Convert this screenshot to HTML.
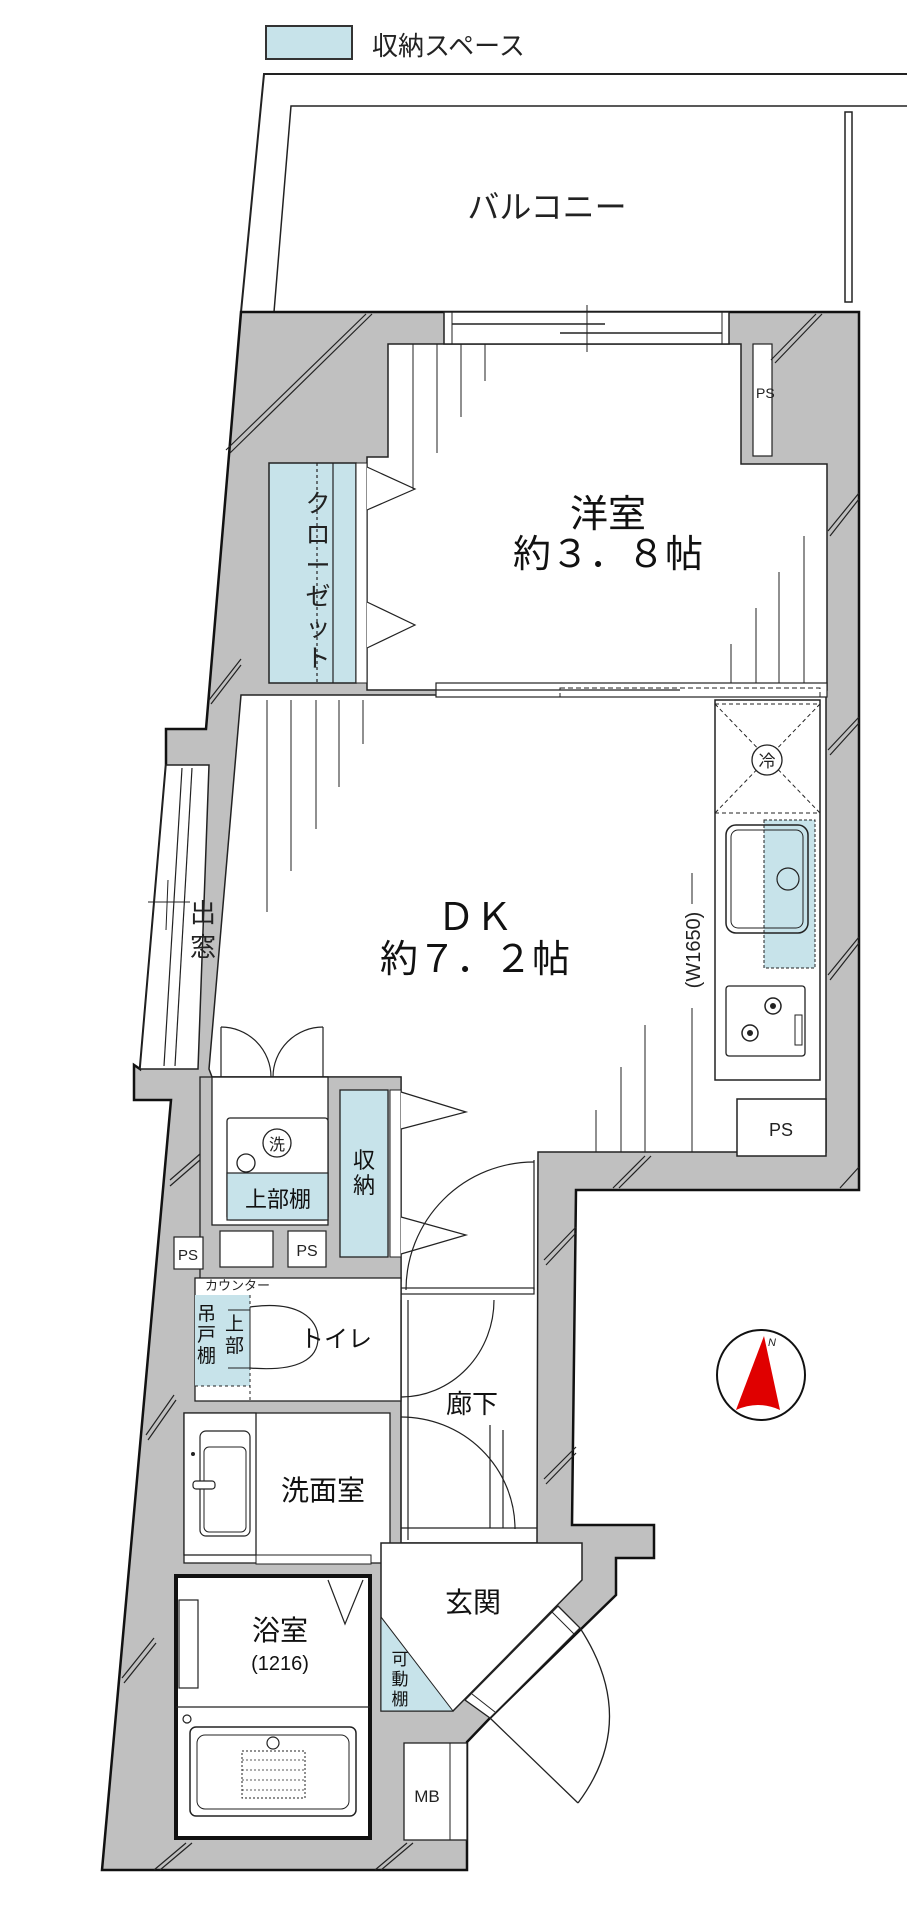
<!DOCTYPE html>
<html><head><meta charset="utf-8"><style>html,body{margin:0;padding:0;background:#fff}svg{display:block}</style></head>
<body>
<svg width="907" height="1920" viewBox="0 0 907 1920" xmlns="http://www.w3.org/2000/svg" font-family="'Liberation Sans','Noto Sans CJK JP',sans-serif" stroke-linejoin="miter">
<!-- legend -->
<rect x="266" y="26" width="86" height="33" fill="#c7e3ea" stroke="#333" stroke-width="2"/>
<text x="372" y="55" font-size="26" fill="#222">収納スペース</text>
<!-- balcony -->
<polyline points="241,312 264,74 907,74" fill="none" stroke="#222" stroke-width="2"/>
<polyline points="274,312 291,106 907,106" fill="none" stroke="#222" stroke-width="1.5"/>
<rect x="845" y="112" width="7" height="190" fill="#fff" stroke="#222" stroke-width="1.5"/>
<text x="547" y="218" font-size="32" text-anchor="middle" fill="#222">バルコニー</text>
<!-- outer gray building -->
<polygon points="241,312 859,312 859,1190 576,1190 572,1525 654,1525 654,1558 616,1558 616,1595 578,1632 490,1718 467,1742 467,1870 102,1870 171,1100 134,1100 134,1065 140,1069 166,765 166,729 206,729" fill="#c0c0c0" stroke="#111" stroke-width="2.5"/>
<!-- bay window -->
<polygon points="166,765 209,765 198,1069 140,1069" fill="#fff" stroke="#222" stroke-width="1.5"/>
<line x1="182" y1="768" x2="164" y2="1066" stroke="#222" stroke-width="1.2"/>
<line x1="192" y1="768" x2="175" y2="1066" stroke="#222" stroke-width="1.2"/>
<line x1="148" y1="902" x2="190" y2="902" stroke="#222" stroke-width="1"/>
<line x1="168" y1="880" x2="166" y2="930" stroke="#222" stroke-width="1"/>
<text font-size="26" fill="#222"><tspan x="190" y="922">出</tspan><tspan x="190" y="956">窓</tspan></text>
<!-- 洋室 -->
<polygon points="388,344 741,344 741,464 827,464 827,690 367,690 367,457 388,457" fill="#fff" stroke="#222" stroke-width="1.5"/>
<rect x="444" y="312" width="285" height="32" fill="#fff" stroke="#222" stroke-width="1.5"/>
<rect x="452" y="312" width="270" height="32" fill="none" stroke="#222" stroke-width="1"/>
<line x1="452" y1="324" x2="605" y2="324" stroke="#222" stroke-width="1.5"/>
<line x1="560" y1="333" x2="722" y2="333" stroke="#222" stroke-width="1.5"/>
<line x1="587" y1="305" x2="587" y2="352" stroke="#222" stroke-width="1"/>
<rect x="753" y="344" width="19" height="112" fill="#fff" stroke="#222" stroke-width="1.2"/>
<text x="756" y="398" font-size="14" fill="#222">PS</text>
<!-- closet -->
<rect x="269" y="463" width="87" height="220" fill="#c7e3ea" stroke="#222" stroke-width="1.5"/>
<line x1="317" y1="463" x2="317" y2="683" stroke="#222" stroke-width="1.2" stroke-dasharray="3,3"/>
<line x1="333" y1="463" x2="333" y2="683" stroke="#222" stroke-width="1.2"/>
<rect x="356" y="463" width="11" height="220" fill="#fff" stroke="#222" stroke-width="1"/>
<text font-size="25" fill="#222" text-anchor="middle"><tspan x="318" y="512">ク</tspan><tspan x="318" y="543">ロ</tspan><tspan x="318" y="574">ー</tspan><tspan x="318" y="605">ゼ</tspan><tspan x="318" y="636">ッ</tspan><tspan x="318" y="667">ト</tspan></text>
<polyline points="367,467 415,489 367,510" fill="#fff" stroke="#222" stroke-width="1.2"/>
<polyline points="367,602 415,625 367,648" fill="#fff" stroke="#222" stroke-width="1.2"/>
<g stroke="#222" stroke-width="1">
<line x1="413" y1="344" x2="413" y2="489"/><line x1="437" y1="344" x2="437" y2="453"/><line x1="461" y1="344" x2="461" y2="417"/><line x1="485" y1="344" x2="485" y2="381"/>
<line x1="731" y1="683" x2="731" y2="644"/><line x1="756" y1="683" x2="756" y2="608"/><line x1="779" y1="683" x2="779" y2="572"/><line x1="804" y1="683" x2="804" y2="536"/>
</g>
<text x="608" y="527" font-size="38" text-anchor="middle" fill="#111">洋室</text>
<text x="608" y="567" font-size="38" text-anchor="middle" fill="#111">約３．８帖</text>
<!-- DK + hall -->
<polygon points="241,695 826,695 826,1152 538,1152 537,1543 401,1543 401,1077 212,1077 209,1069" fill="#fff" stroke="#222" stroke-width="1.5"/>
<rect x="436" y="683" width="391" height="14" fill="#fff" stroke="#222" stroke-width="1.2"/>
<line x1="436" y1="690" x2="680" y2="690" stroke="#222" stroke-width="1.2"/>
<rect x="560" y="688" width="260" height="9" fill="none" stroke="#222" stroke-width="1" stroke-dasharray="5,3"/>
<g stroke="#222" stroke-width="1">
<line x1="267" y1="700" x2="267" y2="912"/><line x1="291" y1="700" x2="291" y2="871"/><line x1="316" y1="700" x2="316" y2="829"/><line x1="339" y1="700" x2="339" y2="787"/><line x1="363" y1="700" x2="363" y2="744"/>
<line x1="596" y1="1152" x2="596" y2="1110"/><line x1="621" y1="1152" x2="621" y2="1067"/><line x1="645" y1="1152" x2="645" y2="1025"/><line x1="692" y1="1152" x2="692" y2="1008"/>
<line x1="692" y1="873" x2="692" y2="904"/>
</g>
<text x="475" y="930" font-size="38" text-anchor="middle" fill="#111">ＤＫ</text>
<text x="475" y="972" font-size="38" text-anchor="middle" fill="#111">約７．２帖</text>
<text transform="translate(700,950) rotate(-90)" font-size="20" text-anchor="middle" fill="#222">(W1650)</text>
<!-- kitchen -->
<rect x="715" y="700" width="105" height="380" fill="#fff" stroke="#222" stroke-width="1.5"/>
<rect x="715" y="704" width="105" height="109" fill="none" stroke="#222" stroke-width="1" stroke-dasharray="4,3"/>
<line x1="715" y1="704" x2="820" y2="813" stroke="#222" stroke-width="1" stroke-dasharray="4,3"/>
<line x1="820" y1="704" x2="715" y2="813" stroke="#222" stroke-width="1" stroke-dasharray="4,3"/>
<circle cx="767" cy="760" r="15" fill="#fff" stroke="#222" stroke-width="1.3"/>
<text x="767" y="767" font-size="17" text-anchor="middle" fill="#222">冷</text>
<rect x="764" y="820" width="51" height="148" fill="#c7e3ea" stroke="#222" stroke-width="1" stroke-dasharray="3,2"/>
<rect x="726" y="825" width="82" height="108" rx="10" fill="none" stroke="#222" stroke-width="1.5"/>
<rect x="731" y="830" width="72" height="98" rx="7" fill="none" stroke="#222" stroke-width="1"/>
<circle cx="788" cy="879" r="11" fill="none" stroke="#222" stroke-width="1.2"/>
<rect x="726" y="986" width="79" height="70" rx="3" fill="#fff" stroke="#222" stroke-width="1.3"/>
<circle cx="773" cy="1006" r="8" fill="none" stroke="#222" stroke-width="1.5"/><circle cx="773" cy="1006" r="3" fill="#222"/>
<circle cx="750" cy="1033" r="8" fill="none" stroke="#222" stroke-width="1.5"/><circle cx="750" cy="1033" r="3" fill="#222"/>
<rect x="795" y="1015" width="7" height="30" fill="none" stroke="#222" stroke-width="1"/>
<rect x="737" y="1099" width="89" height="57" fill="#fff" stroke="#222" stroke-width="1.5"/>
<text x="781" y="1136" font-size="18" text-anchor="middle" fill="#222">PS</text>
<!-- laundry block -->
<rect x="200" y="1077" width="201" height="204" fill="#c0c0c0" stroke="#222" stroke-width="1.3"/>
<rect x="212" y="1077" width="116" height="148" fill="#fff" stroke="#222" stroke-width="1.3"/>
<rect x="227" y="1118" width="101" height="102" rx="3" fill="#fff" stroke="#222" stroke-width="1.3"/>
<rect x="227" y="1173" width="101" height="47" fill="#c7e3ea" stroke="#222" stroke-width="1.2"/>
<circle cx="277" cy="1143" r="14" fill="#fff" stroke="#222" stroke-width="1.3"/>
<text x="277" y="1150" font-size="16" text-anchor="middle" fill="#222">洗</text>
<circle cx="246" cy="1163" r="9" fill="none" stroke="#222" stroke-width="1.3"/>
<text x="278" y="1207" font-size="22" text-anchor="middle" fill="#111">上部棚</text>
<rect x="340" y="1090" width="48" height="167" fill="#c7e3ea" stroke="#222" stroke-width="1.3"/>
<text font-size="22" text-anchor="middle" fill="#111"><tspan x="364" y="1168">収</tspan><tspan x="364" y="1193">納</tspan></text>
<rect x="390" y="1090" width="11" height="167" fill="#fff" stroke="#222" stroke-width="1"/>
<polyline points="401,1092 466,1112 401,1129" fill="#fff" stroke="#222" stroke-width="1.2"/>
<polyline points="401,1217 466,1235 401,1254" fill="#fff" stroke="#222" stroke-width="1.2"/>
<rect x="220" y="1231" width="53" height="36" fill="#fff" stroke="#222" stroke-width="1.2"/>
<rect x="288" y="1231" width="38" height="36" fill="#fff" stroke="#222" stroke-width="1.2"/>
<text x="307" y="1256" font-size="16" text-anchor="middle" fill="#222">PS</text>
<rect x="174" y="1237" width="29" height="32" fill="#fff" stroke="#222" stroke-width="1.2"/>
<text x="188" y="1260" font-size="15" text-anchor="middle" fill="#222">PS</text>
<!-- laundry doors -->
<g fill="none" stroke="#222" stroke-width="1.2">
<line x1="221" y1="1027" x2="221" y2="1077"/><path d="M221,1027 A50,50 0 0 1 271,1077"/>
<line x1="323" y1="1027" x2="323" y2="1077"/><path d="M323,1027 A50,50 0 0 0 273,1077"/>
<line x1="212" y1="1077" x2="328" y2="1077"/>
</g>
<!-- DK -> hall door -->
<g fill="none" stroke="#222" stroke-width="1.2">
<line x1="534" y1="1160" x2="534" y2="1290"/>
<path d="M534,1162 A128,128 0 0 0 406,1290"/>
<rect x="401" y="1288" width="133" height="6"/>
</g>
<!-- toilet -->
<rect x="195" y="1278" width="206" height="123" fill="#fff" stroke="#222" stroke-width="1.3"/>
<rect x="195" y="1295" width="55" height="91" fill="#c7e3ea"/>
<line x1="195" y1="1386" x2="250" y2="1386" stroke="#222" stroke-width="1" stroke-dasharray="3,3"/>
<line x1="250" y1="1295" x2="250" y2="1401" stroke="#222" stroke-width="1" stroke-dasharray="3,3"/>
<text x="205" y="1290" font-size="13" fill="#222">カウンター</text>
<text font-size="19" fill="#111"><tspan x="197" y="1320">吊</tspan><tspan x="197" y="1341">戸</tspan><tspan x="197" y="1362">棚</tspan></text>
<text font-size="19" fill="#111"><tspan x="225" y="1330">上</tspan><tspan x="225" y="1352">部</tspan></text>
<path d="M228,1310 L250,1310 L250,1368 L228,1368" fill="none" stroke="#222" stroke-width="1"/>
<path d="M250,1307 C300,1300 318,1320 318,1338 C318,1358 300,1372 250,1368" fill="none" stroke="#222" stroke-width="1.2"/>
<text x="300" y="1347" font-size="24" fill="#111">トイレ</text>
<!-- hall doors -->
<g fill="none" stroke="#222" stroke-width="1.2">
<path d="M494,1300 A93,97 0 0 1 401,1397"/>
<line x1="401" y1="1300" x2="401" y2="1540"/>
<line x1="408" y1="1300" x2="408" y2="1540"/>
<path d="M401,1417 A114,112 0 0 1 515,1529"/>
<line x1="490" y1="1425" x2="490" y2="1528"/>
<line x1="503" y1="1430" x2="503" y2="1528"/>
<line x1="401" y1="1528" x2="537" y2="1528"/>
</g>
<text x="472" y="1413" font-size="26" text-anchor="middle" fill="#111">廊下</text>
<!-- washroom -->
<rect x="184" y="1413" width="206" height="150" fill="#fff" stroke="#222" stroke-width="1.3"/>
<rect x="184" y="1413" width="72" height="142" fill="#fff" stroke="#222" stroke-width="1.3"/>
<rect x="200" y="1431" width="50" height="105" rx="6" fill="none" stroke="#222" stroke-width="1.2"/>
<rect x="204" y="1447" width="42" height="85" rx="5" fill="none" stroke="#222" stroke-width="1"/>
<rect x="193" y="1481" width="22" height="8" rx="3" fill="#fff" stroke="#222" stroke-width="1.2"/>
<circle cx="193" cy="1454" r="2" fill="#222"/>
<text x="323" y="1500" font-size="28" text-anchor="middle" fill="#111">洗面室</text>
<rect x="256" y="1555" width="115" height="9" fill="#fff" stroke="#222" stroke-width="1"/>
<!-- bathroom -->
<rect x="176" y="1576" width="194" height="262" fill="#fff" stroke="#111" stroke-width="4"/>
<line x1="176" y1="1707" x2="370" y2="1707" stroke="#222" stroke-width="1.3"/>
<polyline points="328,1580 345,1624 363,1580" fill="none" stroke="#222" stroke-width="1.2"/>
<rect x="179" y="1600" width="19" height="88" fill="none" stroke="#222" stroke-width="1.2"/>
<text x="280" y="1640" font-size="28" text-anchor="middle" fill="#111">浴室</text>
<text x="280" y="1670" font-size="20" text-anchor="middle" fill="#111">(1216)</text>
<circle cx="187" cy="1719" r="4" fill="none" stroke="#222" stroke-width="1.2"/>
<rect x="190" y="1727" width="166" height="89" rx="6" fill="none" stroke="#222" stroke-width="1.5"/>
<rect x="197" y="1735" width="152" height="74" rx="8" fill="none" stroke="#222" stroke-width="1"/>
<circle cx="273" cy="1743" r="6" fill="none" stroke="#222" stroke-width="1.2"/>
<rect x="242" y="1751" width="63" height="47" fill="none" stroke="#222" stroke-width="1" stroke-dasharray="2,2"/>
<g stroke="#222" stroke-width="0.8" stroke-dasharray="2,2"><line x1="242" y1="1760" x2="305" y2="1760"/><line x1="242" y1="1770" x2="305" y2="1770"/><line x1="242" y1="1780" x2="305" y2="1780"/><line x1="242" y1="1790" x2="305" y2="1790"/></g>
<!-- entrance -->
<polygon points="381,1543 582,1543 582,1580 453,1711 381,1711" fill="#fff" stroke="#222" stroke-width="1.5"/>
<polygon points="381,1617 381,1711 453,1711" fill="#c7e3ea" stroke="#222" stroke-width="1"/>
<text font-size="17" fill="#111" text-anchor="middle"><tspan x="400" y="1665">可</tspan><tspan x="400" y="1685">動</tspan><tspan x="400" y="1705">棚</tspan></text>
<text x="473" y="1612" font-size="28" text-anchor="middle" fill="#111">玄関</text>
<polygon points="558,1606 580,1628 490,1718 465,1700" fill="#fff" stroke="#222" stroke-width="1.3"/>
<line x1="552" y1="1612" x2="574" y2="1634" stroke="#222" stroke-width="1"/>
<line x1="472" y1="1694" x2="495" y2="1712" stroke="#222" stroke-width="1"/>
<line x1="490" y1="1718" x2="578" y2="1803" stroke="#222" stroke-width="1.3"/>
<path d="M578,1803 Q640,1720 580,1628" fill="none" stroke="#222" stroke-width="1.3"/>
<rect x="404" y="1743" width="63" height="97" fill="#fff" stroke="#222" stroke-width="1.3"/>
<line x1="450" y1="1743" x2="450" y2="1840" stroke="#222" stroke-width="1"/>
<text x="427" y="1802" font-size="17" text-anchor="middle" fill="#222">MB</text>
<!-- hatch marks -->
<g stroke="#222" stroke-width="1.2">
<line x1="372" y1="314" x2="230" y2="453"/><line x1="366" y1="314" x2="226" y2="450"/>
<line x1="822" y1="314" x2="775" y2="363"/><line x1="816" y1="314" x2="771" y2="360"/>
<line x1="859" y1="493" x2="828" y2="531"/><line x1="859" y1="499" x2="830" y2="536"/>
<line x1="859" y1="717" x2="828" y2="750"/><line x1="859" y1="723" x2="830" y2="755"/>
<line x1="859" y1="937" x2="828" y2="975"/><line x1="859" y1="943" x2="830" y2="980"/>
<line x1="859" y1="1167" x2="840" y2="1188"/>
<line x1="645" y1="1156" x2="613" y2="1188"/><line x1="651" y1="1156" x2="619" y2="1188"/>
<line x1="576" y1="1227" x2="544" y2="1260"/><line x1="576" y1="1233" x2="546" y2="1265"/>
<line x1="576" y1="1447" x2="544" y2="1479"/><line x1="576" y1="1453" x2="546" y2="1484"/>
<line x1="241" y1="659" x2="209" y2="700"/><line x1="241" y1="665" x2="211" y2="704"/>
<line x1="200" y1="1154" x2="170" y2="1180"/><line x1="200" y1="1160" x2="170" y2="1186"/>
<line x1="174" y1="1395" x2="146" y2="1435"/><line x1="176" y1="1400" x2="148" y2="1440"/>
<line x1="154" y1="1638" x2="122" y2="1678"/><line x1="156" y1="1643" x2="124" y2="1683"/>
<line x1="186" y1="1843" x2="154" y2="1870"/><line x1="192" y1="1843" x2="160" y2="1870"/>
<line x1="407" y1="1843" x2="375" y2="1870"/><line x1="413" y1="1843" x2="381" y2="1870"/>
</g>
<!-- compass -->
<ellipse cx="761" cy="1375" rx="44" ry="45" fill="#fff" stroke="#111" stroke-width="2"/>
<polygon points="764,1336 736,1410 780,1410" fill="#e00000"/>
<path d="M736,1410 Q758,1400 780,1410" fill="#fff"/>
<text x="768" y="1346" font-size="11" font-style="italic" fill="#222">N</text>
</svg>
</body></html>
